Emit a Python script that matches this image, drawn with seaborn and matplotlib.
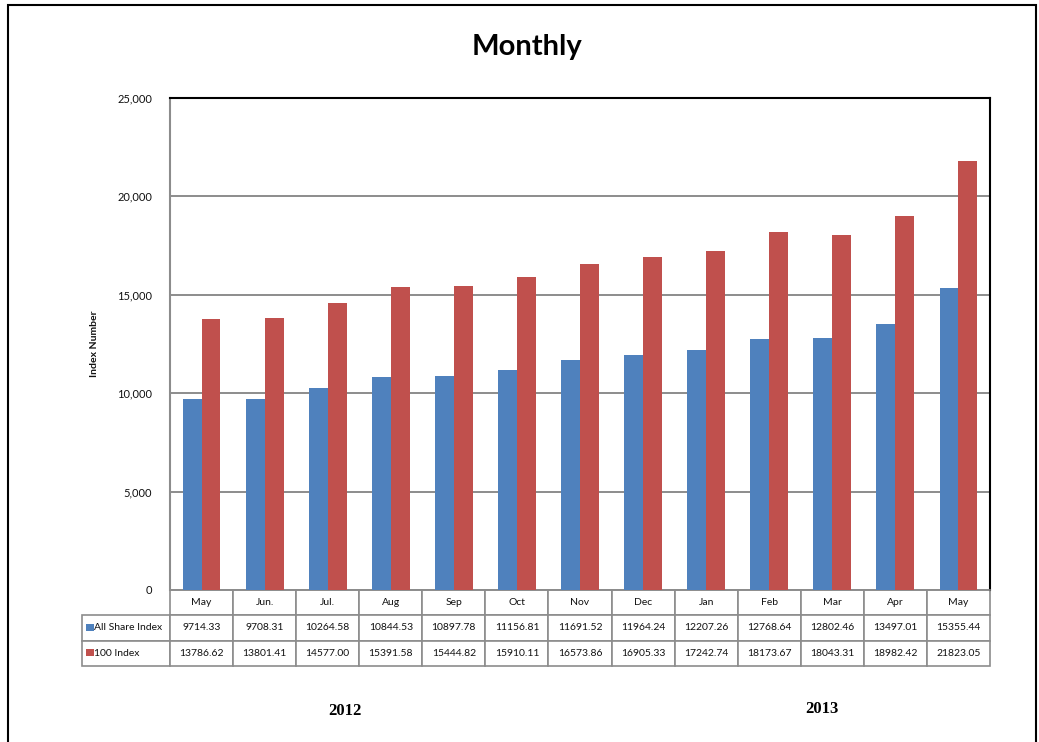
import matplotlib
matplotlib.use("Agg")
import matplotlib.pyplot as plt
from matplotlib.patches import Rectangle
import seaborn as sns
import pandas as pd

# ---- data ----
periods = ["2012-05", "2012-06", "2012-07", "2012-08", "2012-09", "2012-10", "2012-11",
           "2012-12", "2013-01", "2013-02", "2013-03", "2013-04", "2013-05"]
months = ["May", "Jun.", "Jul.", "Aug", "Sep", "Oct", "Nov", "Dec", "Jan", "Feb", "Mar", "Apr", "May"]
series_names = ["All Share Index", "100 Index"]
all_share = [9714.33, 9708.31, 10264.58, 10844.53, 10897.78, 11156.81, 11691.52,
             11964.24, 12207.26, 12768.64, 12802.46, 13497.01, 15355.44]
index_100 = [13786.62, 13801.41, 14577.00, 15391.58, 15444.82, 15910.11, 16573.86,
             16905.33, 17242.74, 18173.67, 18043.31, 18982.42, 21823.05]
years = ["2012", "2013"]
y_ticks = [0, 5000, 10000, 15000, 20000, 25000]
colors = ["#4F81BD", "#C0504D"]

df = pd.DataFrame({
    "period": periods * 2,
    "series": [series_names[0]] * len(periods) + [series_names[1]] * len(periods),
    "value": all_share + index_100,
})

sns.set_theme(style="white")
plt.rcParams["font.family"] = ["Lato", "DejaVu Sans"]

W, H = 1039, 742
fig = plt.figure(figsize=(W / 100, H / 100), dpi=100)
L, R, T, B = 170, 990, 98, 590
ax = fig.add_axes([L / W, 1 - B / H, (R - L) / W, (B - T) / H])

sns.barplot(data=df, x="period", y="value", hue="series", order=periods,
            hue_order=series_names, palette=colors, width=0.6, gap=0,
            saturation=1, edgecolor="none", linewidth=0, legend=False, ax=ax, zorder=3)

ax.set_ylim(0, 25000)
ax.set_xlim(-0.5, len(periods) - 0.5)
ax.set_yticks(y_ticks)
ax.set_yticklabels([f"{v:,}" for v in y_ticks], fontsize=8, color="#111111")
ax.tick_params(axis="y", length=0, pad=13)
ax.set_xticks([])
ax.set_xlabel("")
ax.set_ylabel("Index Number", fontsize=7.5, fontweight="bold", color="#111111", labelpad=13)
ax.yaxis.grid(True, color="#8c8c8c", linewidth=1.4, zorder=1)
ax.set_axisbelow(True)
for s in ["top", "right"]:
    ax.spines[s].set_color("black")
    ax.spines[s].set_linewidth(1.5)
ax.spines["left"].set_color("#8c8c8c")
ax.spines["left"].set_linewidth(1.5)
ax.spines["bottom"].set_color("#8c8c8c")
ax.spines["bottom"].set_linewidth(1.2)

# ---- data table ----
cell_text = [[""] + months,
             [series_names[0]] + [f"{v:.2f}" for v in all_share],
             [series_names[1]] + [f"{v:.2f}" for v in index_100]]
label_w = 88
col_w = (R - L) / len(periods)
tbl_w = label_w + (R - L)
tbl_h = 76
table = ax.table(cellText=cell_text,
                 colWidths=[label_w / tbl_w] + [col_w / tbl_w] * len(periods),
                 cellLoc="center",
                 bbox=[-label_w / (R - L), -tbl_h / (B - T), tbl_w / (R - L), tbl_h / (B - T)])
table.auto_set_font_size(False)
table.set_fontsize(7.5)
for (r, c), cell in table.get_celld().items():
    cell.set_edgecolor("#8c8c8c")
    cell.set_linewidth(1.2)
    cell.get_text().set_color("#111111")
    if c == 0:
        if r == 0:
            cell.visible_edges = ""
        else:
            cell._loc = "left"
            cell.PAD = 0.14
            cell.get_text().set_ha("left")

# legend swatches in row labels
for i, col in enumerate(colors):
    ytop = 624 + i * 25
    ax.add_patch(Rectangle(((86 - L) / (R - L), (B - (ytop + 7)) / (B - T)),
                           8 / (R - L), 7 / (B - T), transform=ax.transAxes,
                           facecolor=col, edgecolor="none", clip_on=False, zorder=5))

# ---- title and year labels ----
fig.text(527 / W, 1 - 47 / H, "Monthly", ha="center", va="center",
         fontsize=21, fontweight="bold", color="black")
fig.text(345 / W, 1 - 711 / H, years[0], ha="center", va="center",
         fontsize=12, fontweight="bold", family="Liberation Serif", color="black")
fig.text(822 / W, 1 - 709 / H, years[1], ha="center", va="center",
         fontsize=12, fontweight="bold", family="Liberation Serif", color="black")

# outer frame
fig.patches.append(Rectangle((8 / W, -0.05), (1036 - 8) / W, 1.05 - 5 / H,
                             transform=fig.transFigure, fill=False,
                             edgecolor="black", linewidth=1.5))

fig.savefig("out.png", dpi=100)
